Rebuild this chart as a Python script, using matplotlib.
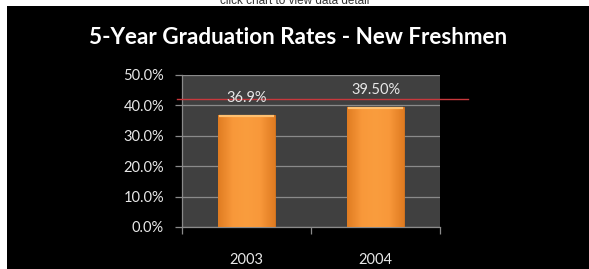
#!/usr/bin/env python3
"""
5-Year Graduation Rates - New Freshmen (bar chart on black)
"""

import numpy as np
import matplotlib
matplotlib.use('Agg')
import matplotlib.pyplot as plt
from matplotlib.patches import Rectangle
from matplotlib.colors import LinearSegmentedColormap
from matplotlib.ticker import FuncFormatter, MultipleLocator

# data
years = ['2003', '2004']
rates = [36.9, 39.5]
rate_labels = ['36.9%', '39.50%']
target_rate = 42.1

plt.rcParams['font.family'] = ['Lato', 'DejaVu Sans']

fig = plt.figure(figsize=(5.89, 2.69), dpi=100)
fig.patch.set_facecolor('white')

# black chart panel under the white strip
fig.patches.append(Rectangle((7 / 589, 0), 582 / 589, 263 / 269,
                             transform=fig.transFigure, facecolor='black',
                             edgecolor='none', zorder=-1))

# link text cut off at the top
fig.text(0.5, 1 - 4 / 269, 'click chart to view data detail', ha='center',
         va='baseline', fontsize=8.5, color='#333333',
         family=['Liberation Sans', 'DejaVu Sans'])

fig.text(298 / 589, 1 - 37 / 269, '5-Year Graduation Rates - New Freshmen',
         ha='center', va='center', fontsize=16.2, fontweight='bold', color='white')

ax = fig.add_axes([182 / 589, 42 / 269, 258 / 589, 152 / 269])
ax.set_zorder(2)
ax.set_facecolor('#404040')

x = range(len(years))
bars = ax.bar(x, rates, width=0.44, color='#F7962F', edgecolor='#D9741C',
              linewidth=0.6, zorder=3)

# soft bevel look: darker sides, lighter middle
shade = LinearSegmentedColormap.from_list(
    'shade', ['#E07C22', '#F8983A', '#FA9D3E', '#F8983A', '#E07C22'])
grad = np.linspace(0, 1, 64).reshape(1, -1)
for b in bars:
    bx, by = b.get_x(), b.get_y()
    im = ax.imshow(grad, cmap=shade, aspect='auto', zorder=3.5,
                   extent=[bx, bx + b.get_width(), by, by + b.get_height()])
    im.set_clip_path(b)
    # light cap on top
    ax.plot([bx + 0.01, bx + b.get_width() - 0.01], [b.get_height() - 0.4] * 2,
            color='#FFC070', linewidth=1.6, zorder=3.6, solid_capstyle='butt')

for xi, v, lab in zip(x, rates, rate_labels):
    ax.annotate(lab, (xi, v), xytext=(0, 12), textcoords='offset points',
                ha='center', va='center', fontsize=10.5, color='#e8e8e8',
                zorder=5)

# target line runs a bit past the plot area
ax.axhline(target_rate, xmin=-0.02, xmax=1.109, color='#C8383C',
           linewidth=1.0, clip_on=False, zorder=4)

ax.set_xlim(-0.5, len(years) - 0.5)
ax.set_ylim(0, 50)
ax.yaxis.set_major_locator(MultipleLocator(10))
ax.yaxis.set_major_formatter(FuncFormatter(lambda v, p: f'{v:.1f}%'))
ax.grid(axis='y', color='#8a8a8a', linewidth=0.9, zorder=1)
ax.set_axisbelow(True)

ax.set_xticks(list(x))
ax.set_xticklabels(years)
ax.set_xticks([i - 0.5 for i in range(len(years) + 1)], minor=True)
ax.tick_params(axis='x', which='major', length=0, pad=19, labelsize=10.5,
               colors='#e8e8e8')
ax.tick_params(axis='x', which='minor', length=5, color='#8a8a8a', width=0.9)
ax.tick_params(axis='y', length=5, color='#8a8a8a', width=0.9, pad=8,
               labelsize=10.5, labelcolor='#e8e8e8')

for side in ['top', 'right']:
    ax.spines[side].set_visible(False)
for side in ['left', 'bottom']:
    ax.spines[side].set_color('#8a8a8a')
    ax.spines[side].set_linewidth(0.9)

plt.savefig('out.png', dpi=100, facecolor=fig.get_facecolor())
